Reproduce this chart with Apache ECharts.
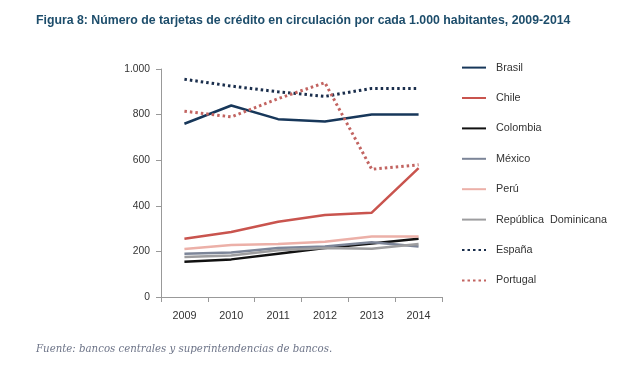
<!DOCTYPE html>
<html><head><meta charset="utf-8">
<script src="https://cdn.jsdelivr.net/npm/echarts@6/dist/echarts.min.js"></script>
<style>html,body{margin:0;padding:0;background:#fff}#c{width:640px;height:380px}</style>
</head><body><div id="c"></div>
<script>
var years = ['2009','2010','2011','2012','2013','2014'];
var brasil = [760, 840, 780, 770, 800, 800];
var chile = [255, 285, 330, 360, 370, 565];
var colombia = [155, 165, 190, 215, 235, 255];
var mexico = [190, 195, 215, 222, 240, 222];
var peru = [210, 228, 232, 242, 265, 265];
var repDom = [175, 182, 205, 215, 212, 232];
var espana = [955, 925, 900, 880, 915, 915];
var portugal = [815, 790, 870, 940, 560, 580];
var yTicks = ['0','200','400','600','800','1.000'];

var chart = echarts.init(document.getElementById('c'));
function s(name, data, color, width, dotted) {
  return {
    name: name, type: 'line', data: data, symbol: 'none', z: dotted ? 3 : 2,
    lineStyle: { color: color, width: width, type: dotted ? [2.5, 3] : 'solid', cap: 'butt' },
    itemStyle: { color: color }
  };
}
chart.setOption({
  animation: false,
  title: [{
    text: 'Figura 8: Número de tarjetas de crédito en circulación por cada 1.000 habitantes, 2009-2014',
    left: 31, top: 10,
    textStyle: { fontFamily: '"Liberation Sans", Arial', fontSize: 12.3, fontWeight: 'bold', color: '#1d4d6b' }
  }, {
    text: 'Fuente: bancos centrales y superintendencias de bancos.',
    left: 31, top: 339,
    textStyle: { fontFamily: '"DejaVu Serif", "Liberation Serif", serif', fontSize: 10.2, fontStyle: 'italic', fontWeight: 'normal', color: '#6d7488' }
  }],
  grid: { left: 161, right: 198, top: 69, bottom: 83 },
  legend: {
    orient: 'vertical', left: 456, top: 57, itemWidth: 24, itemHeight: 14, itemGap: 19.2,
    itemStyle: { opacity: 0 },
    textStyle: { fontFamily: '"Liberation Sans", Arial', fontSize: 10.8, color: '#333', padding: [0, 0, 0, 5] },
    data: ['Brasil','Chile','Colombia','México','Perú','República  Dominicana','España','Portugal']
  },
  xAxis: {
    type: 'category', data: years, boundaryGap: true,
    axisLine: { lineStyle: { color: '#999', width: 1 } },
    axisTick: { show: true, inside: false, length: 5, lineStyle: { color: '#999' } },
    axisLabel: { fontFamily: '"Liberation Sans", Arial', fontSize: 10.8, color: '#333', margin: 14 }
  },
  yAxis: {
    type: 'value', min: 0, max: 1000, interval: 200,
    axisLine: { show: true, lineStyle: { color: '#999', width: 1 } },
    axisTick: { show: true, inside: false, length: 5, lineStyle: { color: '#999' } },
    splitLine: { show: false },
    axisLabel: { fontFamily: '"Liberation Sans", Arial', fontSize: 10.3, color: '#333', margin: 11,
      formatter: function (v) { return yTicks[Math.round(v / 200)]; } }
  },
  series: [
    s('Brasil', brasil, '#17375a', 2.5, false),
    s('Chile', chile, '#c9544e', 2.5, false),
    s('Colombia', colombia, '#111111', 2.5, false),
    s('México', mexico, '#7c8598', 2.5, false),
    s('Perú', peru, '#ecb0a8', 2.5, false),
    s('República  Dominicana', repDom, '#9d9d9f', 2.5, false),
    s('España', espana, '#1a2e4c', 3, true),
    s('Portugal', portugal, '#c26461', 3, true)
  ]
});
</script></body></html>
